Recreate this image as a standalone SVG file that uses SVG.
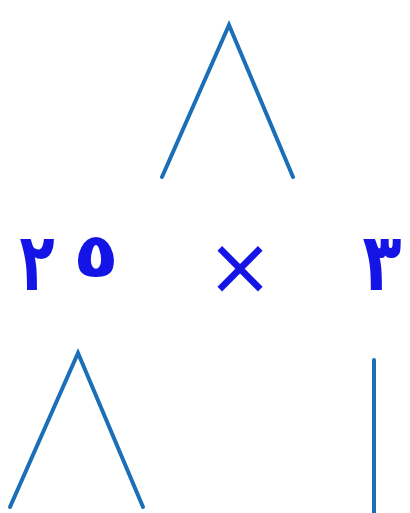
<svg xmlns="http://www.w3.org/2000/svg" width="410" height="513" viewBox="0 0 410 513">
<style>
.ln{stroke:#1b6fb8;stroke-width:4;fill:none;stroke-linecap:round;stroke-linejoin:miter}
.num{font-family:"DejaVu Sans","Noto Sans",sans-serif;font-weight:bold;fill:#1414e6;text-anchor:middle}
.op{font-family:"DejaVu Sans","Noto Sans",sans-serif;font-weight:normal;fill:#1414e6;text-anchor:middle}
</style>
<rect width="410" height="513" fill="#ffffff"/>
<g id="connectors">
<polyline class="ln" points="162,177 229,25 293,177"/>
<polyline class="ln" points="10,507 78,353 143,507"/>
<line class="ln" x1="374" y1="360" x2="374" y2="515"/>
</g>
<g id="n25">
<text class="num" transform="translate(37,290) scale(0.72,1)" font-size="80">٢</text>
<text class="num" transform="translate(96,277) scale(1.2,1)" font-size="62">٥</text>
</g>
<g id="times"><text class="op" x="240" y="294" font-size="80">×</text></g>
<g id="n3"><text class="num" transform="translate(382,290) scale(0.8,1)" font-size="80">٣</text></g>
</svg>
